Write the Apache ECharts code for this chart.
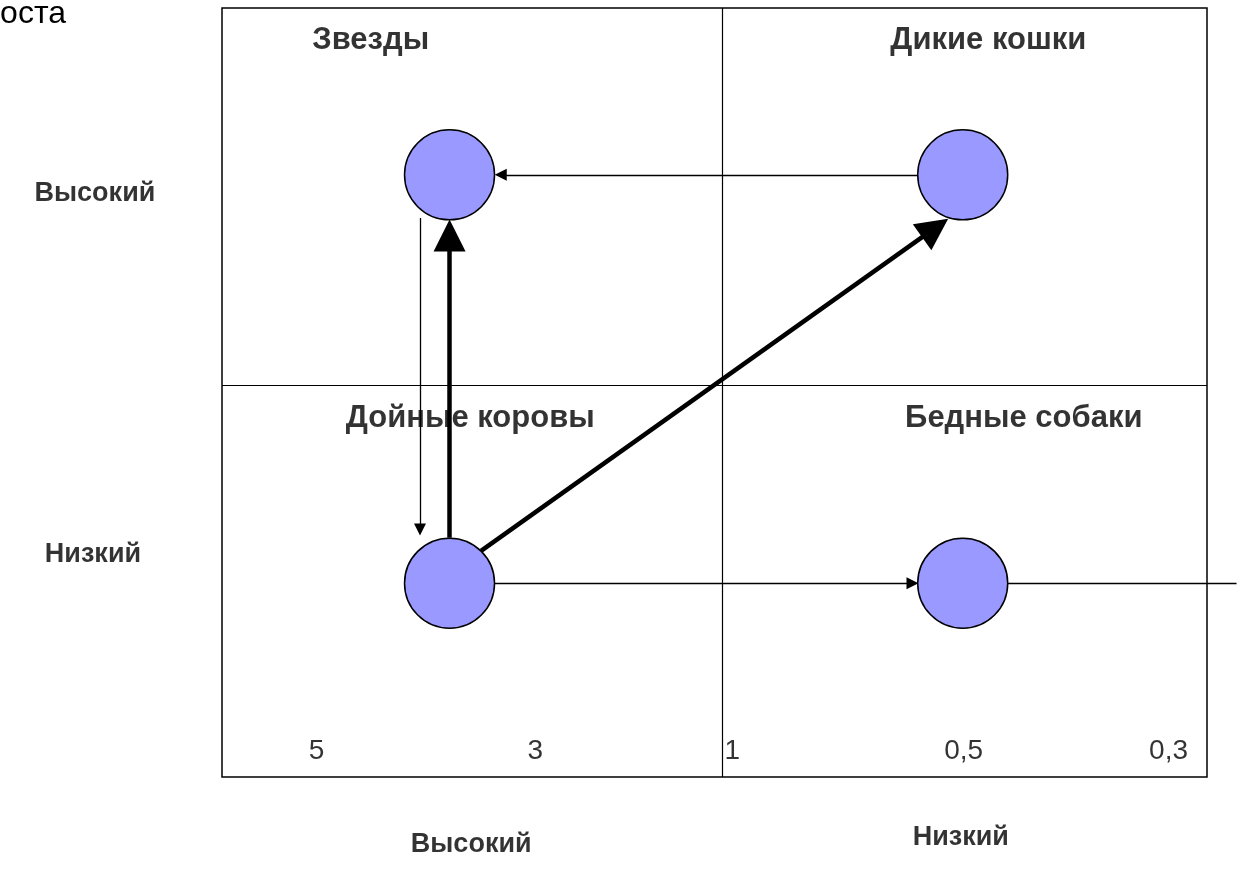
<!DOCTYPE html>
<html>
<head>
<meta charset="utf-8">
<style>
  html, body { margin: 0; padding: 0; background: #fff; }
  #chart { width: 1237px; height: 885px; }
</style>
<script src="https://cdn.jsdelivr.net/npm/echarts@6/dist/echarts.min.js"></script>
</head>
<body>
<div id="chart"></div>
<script>
// BCG matrix: relative market share (x, 0..100 plot units) vs. market growth (y, 0..100)
const quadrantNames = ['Звезды', 'Дикие кошки', 'Дойные коровы', 'Бедные собаки'];
const quadrantLabelPos = [[15.1, 95.8], [77.8, 95.8], [25.2, 46.6], [81.4, 46.6]];

const growthLevels = ['Высокий', 'Низкий'];
const growthLabelPos = [[-12.9, 75.9], [-13.1, 28.9]];

const shareLevels = ['Высокий', 'Низкий'];
const shareLabelPos = [[25.3, -8.8], [75.0, -7.9]];

const shareTicks = ['5', '3', '1', '0,5', '0,3'];
const shareTickX = [9.6, 31.8, 51.8, 75.3, 96.1];
const shareTickY = 3.3;

// Business units: one circle per quadrant
const units = [[23.1, 78.3], [75.2, 78.3], [23.1, 25.2], [75.2, 25.2]];

const midX = 50.8;
const midY = 51.0;

// Movement of resources between units
const thinArrows = [
  [[70.7, 78.3], [28.3, 78.3]],
  [[20.1, 72.7], [20.1, 32.2]],
  [[27.7, 25.2], [70.1, 25.2]]
];
const thickArrows = [
  [[23.1, 31.1], [23.1, 70.4]],
  [[26.3, 29.4], [72.4, 71.4]]
];
const plainLines = [
  [[79.8, 25.2], [103.0, 25.2]]
];

const FONT = '"Liberation Sans", Arial, sans-serif';

function textPoints(names, pos, bold, size, align) {
  return names.map((n, i) => ({
    value: pos[i],
    label: { formatter: n, fontWeight: bold ? 'bold' : 'normal', fontSize: size, align: align || 'center', color: '#000' }
  }));
}

const chart = echarts.init(document.getElementById('chart'));
chart.setOption({
  animation: false,
  grid: {
    left: 222, top: 8, width: 985, height: 769,
    show: true, borderColor: '#000', borderWidth: 1.5, backgroundColor: 'transparent'
  },
  xAxis: {
    type: 'value', min: 0, max: 100,
    axisLine: { show: false }, axisTick: { show: false },
    axisLabel: { show: false }, splitLine: { show: false }
  },
  yAxis: {
    type: 'value', min: 0, max: 100,
    axisLine: { show: false }, axisTick: { show: false },
    axisLabel: { show: false }, splitLine: { show: false }
  },
  graphic: [{
    type: 'text', x: 66, y: 14,
    style: { text: 'Темп роста', font: '32px ' + FONT, fill: '#000', align: 'right', verticalAlign: 'middle' }
  }],
  series: [
    {
      // quadrant dividers
      type: 'scatter', data: [], silent: true,
      markLine: {
        silent: true, symbol: 'none', animation: false,
        label: { show: false },
        lineStyle: { color: '#000', width: 1.2, type: 'solid' },
        data: [{ xAxis: midX }, { yAxis: midY }]
      }
    },
    {
      type: 'lines', coordinateSystem: 'cartesian2d', clip: false, silent: true,
      symbol: ['none', 'triangle'], symbolSize: [8, 12],
      lineStyle: { color: '#000', width: 1.3, opacity: 1, curveness: 0 },
      data: thinArrows.map(c => ({ coords: c }))
    },
    {
      type: 'lines', coordinateSystem: 'cartesian2d', clip: false, silent: true,
      symbol: ['none', 'triangle'], symbolSize: [20, 32],
      lineStyle: { color: '#000', width: 4.5, opacity: 1, curveness: 0 },
      data: thickArrows.map(c => ({ coords: c }))
    },
    {
      type: 'lines', coordinateSystem: 'cartesian2d', clip: false, silent: true,
      symbol: 'none',
      lineStyle: { color: '#000', width: 1.3, opacity: 1, curveness: 0 },
      data: plainLines.map(c => ({ coords: c }))
    },
    {
      type: 'scatter', silent: true, z: 5,
      symbol: 'circle', symbolSize: 90,
      itemStyle: { color: '#9999ff', borderColor: '#000', borderWidth: 1.5, opacity: 1 },
      data: units
    },
    {
      type: 'scatter', silent: true, clip: false, symbolSize: 0, z: 6,
      label: { show: true, position: 'inside', color: '#000', fontFamily: FONT },
      data: []
        .concat(textPoints(quadrantNames, quadrantLabelPos, true, 31))
        .concat(textPoints(growthLevels, growthLabelPos, true, 27))
        .concat(textPoints(shareLevels, shareLabelPos, true, 27))
        .concat(textPoints(shareTicks, shareTickX.map(x => [x, shareTickY]), false, 28))
    }
  ]
});
</script>
</body>
</html>
